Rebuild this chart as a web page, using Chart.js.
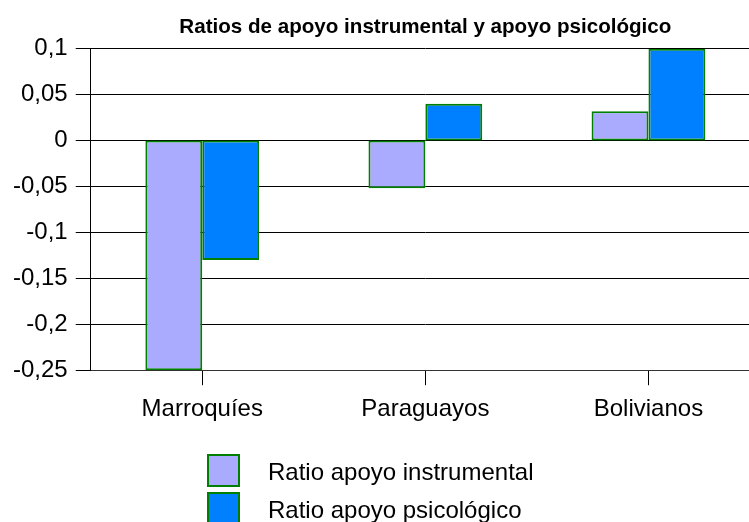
<!DOCTYPE html>
<html lang="es">
<head>
  <meta charset="UTF-8">
  <title>Ratios de apoyo instrumental y apoyo psicológico</title>
  <script src="https://cdn.jsdelivr.net/npm/chart.js"></script>
  <style>
    body {
      margin: 0;
      padding: 0;
      background: #fff;
      overflow: hidden;
    }
    .wrap {
      width: 760px;
      height: 522px;
    }
  </style>
</head>
<body>
  <div class="wrap">
    <canvas id="ratiosChart" width="760" height="522"></canvas>
  </div>

  <script>
    // datos
    const categorias = ['Marroquíes', 'Paraguayos', 'Bolivianos'];
    const ratioInstrumental = [-0.25, -0.052, 0.032];
    const ratioPsicologico = [-0.13, 0.04, 0.1];
    const etiquetasY = ['-0,25', '-0,2', '-0,15', '-0,1', '-0,05', '0', '0,05', '0,1'];
    const nombresSeries = ['Ratio apoyo instrumental', 'Ratio apoyo psicológico'];

    const fuente = '"Liberation Sans", Arial, sans-serif';
    Chart.defaults.color = '#000';
    Chart.defaults.font.family = fuente;

    // leyenda vertical debajo del gráfico
    const leyenda = {
      id: 'leyendaVertical',
      afterDraw(chart) {
        const ctx = chart.ctx;
        ctx.save();
        ctx.font = '24px ' + fuente;
        ctx.textBaseline = 'alphabetic';
        chart.data.datasets.forEach((ds, i) => {
          const top = 455 + i * 38;
          ctx.fillStyle = ds.backgroundColor;
          ctx.fillRect(208, top, 31, 31);
          ctx.strokeStyle = ds.borderColor;
          ctx.lineWidth = 2;
          ctx.strokeRect(208, top, 31, 31);
          ctx.fillStyle = '#000';
          ctx.fillText(ds.label, 268, top + 25);
        });
        ctx.restore();
      }
    };

    const ctx = document.getElementById('ratiosChart').getContext('2d');
    new Chart(ctx, {
      type: 'bar',
      data: {
        labels: categorias,
        datasets: [
          {
            label: nombresSeries[0],
            data: ratioInstrumental,
            backgroundColor: '#aaaaff',
            borderColor: '#008000',
            borderWidth: 2,
            borderSkipped: false
          },
          {
            label: nombresSeries[1],
            data: ratioPsicologico,
            backgroundColor: '#0080ff',
            borderColor: '#008000',
            borderWidth: 2,
            borderSkipped: false
          }
        ]
      },
      options: {
        responsive: false,
        animation: false,
        categoryPercentage: 0.51,
        barPercentage: 1.0,
        layout: {
          padding: { left: 5, right: 0, top: 0, bottom: 88 }
        },
        plugins: {
          legend: { display: false },
          tooltip: { enabled: false },
          title: {
            display: true,
            text: 'Ratios de apoyo instrumental y apoyo psicológico',
            color: '#000',
            font: { size: 20.6, weight: 'bold' },
            padding: { top: 15, bottom: 9 },
            fullSize: false
          }
        },
        scales: {
          x: {
            grid: {
              drawOnChartArea: false,
              drawTicks: true,
              tickLength: 15,
              offset: false,
              color: '#000'
            },
            border: { display: true, color: '#333' },
            ticks: {
              font: { size: 24 },
              padding: 10,
              color: '#000'
            }
          },
          y: {
            min: -0.25,
            max: 0.1,
            ticks: {
              stepSize: 0.05,
              font: { size: 24 },
              padding: 8,
              color: '#000',
              callback: function(value, index) {
                return etiquetasY[index];
              }
            },
            grid: {
              color: '#000',
              lineWidth: 1,
              tickLength: 15
            },
            border: { display: true, color: '#000' }
          }
        }
      },
      plugins: [leyenda]
    });
  </script>
</body>
</html>
